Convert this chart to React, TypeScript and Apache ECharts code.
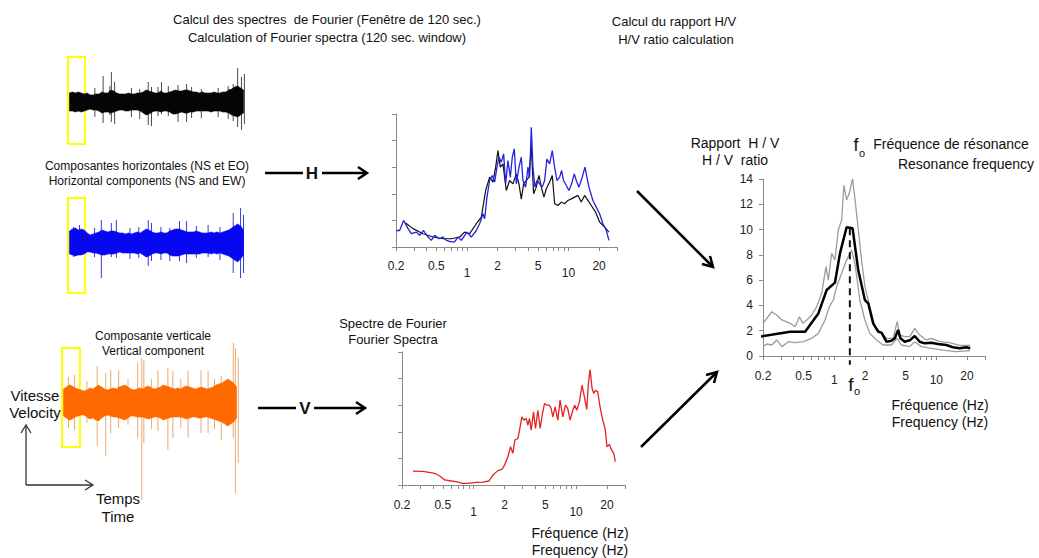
import React, { useEffect, useRef } from 'react';
import * as echarts from 'echarts';

const FONT = '"Liberation Sans", Arial, Helvetica, sans-serif';

// ---------- Seismogram envelopes (half amplitudes, px-like units) ----------
const blackUp = [9,10,9,10,9,8,9,7,7,8,8,10,9,9,12,11,9,8,8,8,9,8,8,9,9,10,12,11,10,9,9,11,9,9,10,11,12,11,11,12,12,11,10,10,9,10,9,9,9,10,9,9,10,10,12,13,15,16,14,12];
const blackDown = [9,9,10,9,10,9,8,7,8,8,9,11,10,10,11,10,9,8,8,9,9,8,8,8,9,11,13,12,10,9,9,10,9,9,10,12,12,11,10,11,11,10,10,9,9,9,9,9,10,9,9,9,10,10,11,13,14,15,13,11];
const blackSpikes = [[8.6,14,15],[11.4,26,21],[13.7,16,13],[14.2,30,20],[15.3,20,22],[21,14,15],[23.8,13,17],[26.7,20,23],[27.8,15,24],[30,15,14],[31.2,20,12],[33.5,16,14],[36.8,17,20],[39.7,18,20],[41.4,15,16],[44.7,13,16],[50.4,14,15],[53.8,16,17],[55.5,18,19],[57,34,25],[58.3,25,28],[59.3,28,22]];

const blueUp = [12,14,15,13,14,13,10,8,9,10,11,13,12,11,12,12,11,10,10,9,10,9,10,11,10,12,14,13,11,10,10,11,10,10,12,13,14,14,13,12,11,11,11,12,11,10,10,10,11,10,11,10,11,12,13,15,17,19,17,13];
const blueDown = [11,12,13,12,12,11,9,9,10,10,11,12,12,11,11,11,10,9,10,10,10,10,10,11,10,12,14,13,11,10,10,11,10,10,12,13,13,13,12,11,11,11,11,11,11,10,10,10,11,10,11,10,11,12,13,15,17,19,16,12];
const blueSpikes = [[1.4,16,14],[3.4,18,12],[8.5,15,14],[10.8,23,35],[14.2,20,14],[15.9,23,15],[20.5,15,16],[23.5,16,15],[26.7,23,23],[27.8,20,18],[31,16,17],[34,15,18],[37.3,22,18],[39.7,22,20],[43,17,15],[47,18,14],[51,16,17],[55.5,30,30],[58,35,35],[59,28,30]];

const orangeUp = [14,16,18,17,15,14,13,12,13,15,14,16,18,16,14,13,14,15,14,16,17,18,16,14,13,14,15,14,16,17,15,14,15,16,18,17,16,15,14,15,14,16,17,16,15,14,15,16,15,14,15,16,18,19,20,22,24,22,20,16];
const orangeDown = [13,15,17,16,14,13,12,12,14,16,15,17,18,15,13,12,13,14,14,15,16,17,15,13,13,14,14,14,15,16,15,14,14,15,17,16,15,14,14,14,14,15,16,15,14,14,15,15,14,14,15,16,17,18,19,21,23,21,19,15];
const orangeSpikes = [[1.7,26,25],[3.8,28,27],[8,22,20],[11.5,37,43],[14.4,30,53],[16.1,33,30],[18.8,33,25],[22,24,22],[25.3,40,35],[26.7,45,97],[27.4,43,40],[30,24,26],[32.2,33,28],[35.6,35,47],[37.3,32,35],[40,24,25],[42.5,32,35],[46.9,33,30],[49.3,32,30],[51.5,24,26],[53.8,27,37],[57.9,60,35],[58.6,55,90],[59.6,45,60]];

// ---------- Fourier spectra (frequency in Hz, amplitude in tick units) ----------
const hBlueFreq = [0.2,0.217,0.238,0.263,0.283,0.317,0.342,0.374,0.413,0.446,0.481,0.53,0.58,0.626,0.701,0.756,0.815,0.88,1.0,1.103,1.236,1.332,1.437,1.493,1.573,1.671,1.776,1.872,1.973,2.064,2.178,2.295,2.402,2.532,2.671,2.793,2.923,3.06,3.251,3.426,3.557,3.779,3.985,4.139,4.297,4.462,4.668,4.884,5.191,5.514,5.811,6.125,6.511,6.916,7.293,7.691,8.169,8.547,8.935,9.5,10.09,10.72,11.39,11.92,12.65,13.65,14.5,15.17,15.88,17.38,18.75,20.22,21.81,23.52,24.99];
const hBlueAmp = [0.62,0.62,1.0,0.69,0.5,0.56,0.44,0.62,0.375,0.25,0.44,0.31,0.375,0.25,0.19,0.19,0.375,0.25,0.56,0.375,0.62,0.875,1.25,1.06,1.875,2.5,2.69,2.44,3.0,3.375,3.19,3.5,2.375,3.25,2.625,3.375,3.69,2.375,3.0,3.375,2.5,2.25,3.0,2.625,4.5,3.0,2.25,2.5,2.375,2.25,2.5,3.31,3.125,3.625,3.0,2.5,2.625,2.875,2.5,2.31,2.125,2.375,2.75,2.5,2.25,2.625,3.0,2.625,2.25,1.75,1.5,1.25,0.875,0.625,0.25];
const hBlackFreq = [0.249,0.294,0.369,0.463,0.58,0.701,0.847,0.949,1.062,1.236,1.384,1.527,1.671,1.803,1.915,2.018,2.128,2.261,2.438,2.63,2.836,3.06,3.251,3.426,3.611,3.837,4.076,4.297,4.529,4.812,5.114,5.391,5.725,6.034,6.511,6.916,7.293,7.866,8.483,9.145,9.86,10.64,11.47,12.38,13.35,14.39,15.52,16.74,18.47,20.22,22.65,24.99];
const hBlackAmp = [0.9,0.69,0.5,0.375,0.31,0.31,0.375,0.56,0.5,0.875,1.125,2.125,2.625,2.44,3.0,3.625,3.0,3.125,2.125,2.5,2.375,2.75,2.375,1.8,2.375,2.5,2.625,3.8,2.0,2.25,2.69,2.25,1.875,2.19,2.44,2.69,1.625,1.56,1.69,1.625,1.75,1.81,1.875,1.94,1.69,1.94,1.75,1.56,1.31,0.94,0.75,0.56];
const vRedFreq = [0.256,0.321,0.417,0.467,0.522,0.606,0.678,0.776,0.881,1.062,1.233,1.41,1.543,1.726,1.888,2.004,2.159,2.293,2.415,2.527,2.704,2.806,2.958,3.093,3.259,3.382,3.51,3.645,3.839,4.015,4.233,4.46,4.667,4.916,5.178,5.497,5.709,5.927,6.246,6.625,6.98,7.41,7.87,8.29,8.74,9.28,9.7,10.15,10.77,11.43,12.05,12.7,13.18,13.68,14.32,14.86,15.42,16.25,17.13,18.2,19.16,20.04,21.13,22.25,23.29,24.17];
const vRedAmp = [0.525,0.51,0.44,0.34,0.19,0.15,0.125,0.0625,0.0625,0.1,0.11,0.15,0.375,0.54,0.59,0.75,1.06,1.44,1.19,1.69,1.75,2.06,2.56,2.44,2.5,2.25,2.5,2.06,2.75,2.125,2.81,2.125,2.625,3.06,3.0,3.0,2.875,2.56,2.94,2.44,3.19,2.56,3.0,2.875,2.44,2.81,3.0,2.81,3.125,3.75,3.31,2.84,3.81,4.34,3.625,3.44,3.56,3.5,2.94,2.44,2.125,1.44,1.525,1.31,1.19,0.875];

// ---------- H/V ratio ----------
const hvMeanFreq = [0.185,0.369,0.517,0.698,0.842,1.015,1.136,1.32,1.51,1.716,1.994,2.148,2.405,2.692,2.9,3.245,3.632,3.914,4.221,4.446,4.905,5.57,6.14,6.87,7.69,8.94,10.38,12.52,14.55,16.9,19.64,21.5];
const hvMean = [1.53,1.92,1.92,3.37,5.22,5.8,8.12,10.18,10.1,6.8,4.43,4.17,2.58,1.92,1.85,1.13,1.21,1.4,2.06,1.4,1.13,1.27,1.58,1.13,1.0,1.05,0.95,0.87,0.69,0.61,0.69,0.61];
const hvUpperFreq = [0.2,0.244,0.272,0.306,0.369,0.413,0.455,0.491,0.537,0.6,0.672,0.752,0.829,0.874,0.942,1.015,1.094,1.18,1.243,1.32,1.401,1.51,1.592,1.678,1.849,1.994,2.23,2.497,2.794,3.245,3.772,4.127,4.383,4.905,5.49,6.14,6.87,7.98,8.94,10.78,13.5,16.9,21.5];
const hvUpper = [2.58,3.5,3.24,2.85,2.58,2.32,3.11,2.58,2.85,3.24,3.9,4.96,7.07,6.0,8.12,7.6,9.97,10.76,13.5,12.34,12.87,14.0,12.47,10.76,7.6,5.48,3.9,2.32,1.92,1.4,1.4,2.72,1.66,1.53,1.53,2.19,1.66,1.27,1.4,1.13,1.05,0.84,0.84];
const hvLowerFreq = [0.2,0.218,0.244,0.273,0.306,0.355,0.413,0.498,0.6,0.698,0.811,0.894,0.978,1.054,1.18,1.32,1.477,1.592,1.781,1.994,2.23,2.593,3.01,3.632,4.127,4.55,5.49,6.14,7.13,8.94,11.62,15.68,21.5];
const hvLower = [0.74,0.95,0.87,1.27,0.74,1.13,1.05,1.13,1.4,1.79,2.85,3.9,4.43,5.48,6.54,7.6,8.38,7.33,4.43,2.85,1.79,1.27,0.87,0.87,1.4,0.87,0.74,1.13,0.74,0.61,0.47,0.34,0.42];
const f0Hz = 1.42;
const f0Peak = 10.1;

const tickFreqs = [0.2,0.3,0.4,0.5,0.6,0.7,0.8,0.9,1,2,3,4,5,6,7,8,9,10,20,30];
const labelFreqs = [0.2,0.5,1,2,5,10,20];

const lg = (f: number) => Math.log10(f);
const pairs = (fs: number[], vs: number[]) => fs.map((f, i) => [lg(f), vs[i]]);

const AX = '#8a8a8a';
const LBL = '#222';

function logXAxis(gridIndex: number, margin: number, lowPad: number) {
  return {
    type: 'value', gridIndex, min: lg(0.2), max: lg(30),
    axisLine: { show: true, onZero: false, lineStyle: { color: AX, width: 1 } },
    splitLine: { show: false },
    axisTick: { show: true, length: 4, lineStyle: { color: AX }, customValues: tickFreqs.map(lg) },
    axisLabel: {
      show: true, customValues: labelFreqs.map(lg), margin, fontSize: 12, color: LBL, fontFamily: FONT,
      formatter: (v: number) => {
        const f = Math.round(Math.pow(10, v) * 10) / 10;
        const s = String(f);
        return f === 1 || f === 10 ? `{lo|${s}}` : s;
      },
      rich: { lo: { padding: [lowPad, 0, 0, 0], fontSize: 12, color: LBL, fontFamily: FONT } },
    },
  };
}

function plainYAxis(gridIndex: number, max: number, interval: number, showLabel: boolean) {
  return {
    type: 'value', gridIndex, min: 0, max, interval,
    axisLine: { show: true, onZero: false, lineStyle: { color: AX } },
    splitLine: { show: false },
    axisTick: { show: true, length: 4, lineStyle: { color: AX } },
    axisLabel: { show: showLabel, fontSize: 12, color: LBL, fontFamily: FONT, margin: 10 },
  };
}

function hiddenAxis(gridIndex: number, min: number, max: number) {
  return { type: 'value', gridIndex, min, max, show: false, splitLine: { show: false } };
}

// envelope drawn as one polygon through the axis coordinates
function envSeries(idx: number, up: number[], dn: number[], color: string, box: number[]) {
  return {
    type: 'custom', xAxisIndex: idx, yAxisIndex: idx, silent: true,
    data: [[0, 0]],
    renderItem: (_p: any, api: any) => {
      const pts: number[][] = [];
      up.forEach((u, i) => pts.push(api.coord([i, u])));
      for (let i = dn.length - 1; i >= 0; i--) pts.push(api.coord([i, -dn[i]]));
      return { type: 'polygon', shape: { points: pts }, style: { fill: color, stroke: color, lineWidth: 0.6 } };
    },
    markArea: {
      silent: true,
      itemStyle: { color: 'rgba(0,0,0,0)', borderColor: '#FFFF00', borderWidth: 2 },
      data: [[{ coord: [box[0], box[2]] }, { coord: [box[1], box[3]] }]],
    },
  };
}

function spikeSeries(idx: number, data: number[][], color: string) {
  return {
    type: 'custom', xAxisIndex: idx, yAxisIndex: idx, silent: true,
    data,
    renderItem: (_p: any, api: any) => {
      const t = api.value(0);
      const a = api.coord([t, api.value(1)]);
      const b = api.coord([t, -api.value(2)]);
      return { type: 'line', shape: { x1: a[0], y1: a[1], x2: b[0], y2: b[1] }, style: { stroke: color, lineWidth: 1 } };
    },
  };
}

function lineSeries(idx: number, data: number[][], color: string, width: number, extra: any = {}) {
  return {
    type: 'line', xAxisIndex: idx, yAxisIndex: idx, data, showSymbol: false, symbol: 'none',
    lineStyle: { color, width }, silent: true, clip: false, ...extra,
  };
}

const txt = (text: string, x: number, y: number, size = 13, extra: any = {}) => ({
  type: 'text', x, y, silent: true,
  style: { text, fontSize: size, fontFamily: FONT, fill: '#111', align: 'center', verticalAlign: 'middle', ...extra },
});
const ln = (x1: number, y1: number, x2: number, y2: number, w = 2.5, c = '#000') => ({
  type: 'line', silent: true, shape: { x1, y1, x2, y2 }, style: { stroke: c, lineWidth: w },
});
const head = (pts: number[][], w = 2.5, c = '#000') => ({
  type: 'polyline', silent: true, shape: { points: pts }, style: { stroke: c, lineWidth: w, fill: null },
});

export default function App() {
  const ref = useRef<HTMLDivElement>(null);
  useEffect(() => {
    document.body.style.margin = '0';
    if (!ref.current) return;
    const chart = echarts.init(ref.current, undefined, { renderer: 'svg' });
    const option: any = {
      animation: false,
      backgroundColor: '#ffffff',
      grid: [
        { left: 68, top: 57, width: 177, height: 90 },
        { left: 68, top: 193, width: 177, height: 100 },
        { left: 62, top: 303, width: 176, height: 200 },
        { left: 396, top: 114, width: 221, height: 133 },
        { left: 402, top: 352, width: 223, height: 133 },
        { left: 763, top: 179, width: 222, height: 177 },
      ],
      xAxis: [
        hiddenAxis(0, -0.5, 59.5),
        hiddenAxis(1, -0.5, 59.5),
        hiddenAxis(2, -0.5, 59.5),
        logXAxis(3, 13, 7),
        logXAxis(4, 14, 7),
        logXAxis(5, 14, 4),
      ],
      yAxis: [
        hiddenAxis(0, -45, 45),
        hiddenAxis(1, -50, 50),
        hiddenAxis(2, -100, 100),
        plainYAxis(3, 5, 1, false),
        plainYAxis(4, 5, 1, false),
        plainYAxis(5, 14, 2, true),
      ],
      series: [
        spikeSeries(0, blackSpikes, '#4a4a4a'),
        envSeries(0, blackUp, blackDown, '#050505', [-0.8, 5.3, 45, -42]),
        spikeSeries(1, blueSpikes, '#3a3ae6'),
        envSeries(1, blueUp, blueDown, '#0808F0', [-0.8, 5.3, 45, -52]),
        spikeSeries(2, orangeSpikes, '#EBAA72'),
        envSeries(2, orangeUp, orangeDown, '#FF6A00', [-0.5, 5.6, 55, -44]),
        lineSeries(3, pairs(hBlackFreq, hBlackAmp), '#111111', 1.2),
        lineSeries(3, pairs(hBlueFreq, hBlueAmp), '#2222E0', 1.3),
        lineSeries(4, pairs(vRedFreq, vRedAmp), '#E32222', 1.3),
        lineSeries(5, pairs(hvUpperFreq, hvUpper), '#9c9c9c', 1.3),
        lineSeries(5, pairs(hvLowerFreq, hvLower), '#9c9c9c', 1.3),
        lineSeries(5, pairs(hvMeanFreq, hvMean), '#000000', 2.5),
        lineSeries(5, [[lg(f0Hz), f0Peak], [lg(f0Hz), -0.7]], '#111111', 2, { lineStyle: { color: '#111', width: 2, type: [7, 5] } }),
      ],
      graphic: [
        txt('Calcul des spectres  de Fourier (Fenêtre de 120 sec.)', 327, 19, 13),
        txt('Calculation of Fourier spectra (120 sec. window)', 327, 37, 13),
        txt('Calcul du rapport H/V', 674, 21, 13),
        txt('H/V ratio calculation', 676, 39, 13),
        txt('Composantes horizontales (NS et EO)', 147, 166, 12),
        txt('Horizontal components (NS and EW)', 147, 181, 12),
        txt('Composante verticale', 153, 336, 12),
        txt('Vertical component', 153, 351, 12),
        txt('Vitesse', 35, 395, 15),
        txt('Velocity', 35, 412, 15),
        txt('Temps', 118, 498, 15),
        txt('Time', 118, 516, 15),
        txt('Spectre de Fourier', 393, 323, 13),
        txt('Fourier Spectra', 393, 339, 13),
        txt('Fréquence (Hz)', 580, 533, 14),
        txt('Frequency (Hz)', 580, 550, 14),
        txt('Rapport  H / V', 735, 143, 14),
        txt('H / V  ratio', 735, 160, 14),
        txt('f', 856, 145, 18),
        txt('o', 862, 153, 11),
        txt('Fréquence de résonance', 951, 144, 14),
        txt('Resonance frequency', 966, 164, 14),
        txt('Fréquence (Hz)', 940, 405, 14),
        txt('Frequency (Hz)', 940, 422, 14),
        txt('f', 851, 384, 19),
        txt('o', 857, 391, 11),
        txt('H', 312, 173, 17, { fontWeight: 'bold' }),
        txt('V', 305, 408, 17, { fontWeight: 'bold' }),
        ln(265, 173, 303, 173), ln(322, 173, 367, 173), head([[358, 167], [367, 173], [358, 179]]),
        ln(258, 408, 296, 408), ln(314, 408, 365, 408), head([[356, 402], [365, 408], [356, 414]]),
        ln(637, 191, 712, 266), head([[710, 256], [713, 267], [702, 264]]),
        ln(641, 447, 716, 373), head([[706, 375], [717, 372], [714, 383]]),
        ln(26, 485, 26, 426, 1.3, '#333'), head([[21, 433], [26, 425], [31, 433]], 1.3, '#333'),
        ln(26, 485, 92, 485, 1.3, '#333'), head([[85, 480], [93, 485], [85, 490]], 1.3, '#333'),
      ],
    };
    chart.setOption(option);
    return () => chart.dispose();
  }, []);
  return <div ref={ref} style={{ width: 1039, height: 558 }} />;
}
